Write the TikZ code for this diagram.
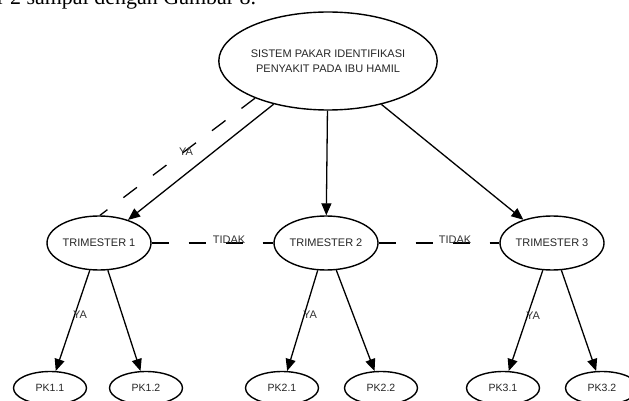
\documentclass[tikz,border=0pt]{standalone}
\usepackage{fontspec}
\setmainfont{Liberation Sans}
\newfontfamily\bodyserif{Liberation Serif}
\usetikzlibrary{shapes.geometric,arrows.meta}
\begin{document}
\begin{tikzpicture}[x=1pt,y=-1pt,
  ell/.style={ellipse, draw, line width=1.4pt, inner sep=0pt, text=black!85,
    font=\fontsize{11}{13}\selectfont, align=center},
  bigell/.style={ell, minimum width=192pt, minimum height=98pt},
  trim/.style={ell, minimum width=104pt, minimum height=54pt},
  pk/.style={ell, minimum width=73pt, minimum height=33pt, font=\fontsize{10.5}{12}\selectfont},
  arr/.style={line width=1.3pt, -{Triangle[length=12pt,width=10pt]}},
  dashline/.style={line width=1.3pt, dash pattern=on 17pt off 20pt},
  lbl/.style={text=black!80, font=\fontsize{11}{13}\selectfont, inner sep=0pt}
]
\clip (0,0) rectangle (629,401);
\fill[white] (0,0) rectangle (629,401);

\node[anchor=base west, inner sep=0pt, font=\bodyserif\fontsize{22}{24}\selectfont] (cap) at (-3,5) {r 2 sampai dengan Gambar 8.};

\node[bigell] (root) at (328,61) {SISTEM PAKAR IDENTIFIKASI\\[2pt]PENYAKIT PADA IBU HAMIL};

\node[trim] (t1) at (99,243) {TRIMESTER 1};
\node[trim] (t2) at (326,243) {TRIMESTER 2};
\node[trim] (t3) at (552,243) {TRIMESTER 3};

\node[pk] (pk11) at (50,388) {PK1.1};
\node[pk] (pk12) at (146,388) {PK1.2};
\node[pk] (pk21) at (282,388) {PK2.1};
\node[pk] (pk22) at (381,388) {PK2.2};
\node[pk] (pk31) at (503,388) {PK3.1};
\node[pk] (pk32) at (602,388) {PK3.2};

\draw[arr] (root) -- (t1);
\draw[arr] (root) -- (t2);
\draw[arr] (root) -- (t3);
\draw[dashline] (root.207) -- (t1.88);

\draw[dashline] (t1) -- (t2);
\draw[dashline] (t2) -- (t3);

\draw[arr] (t1) -- (pk11);
\draw[arr] (t1) -- (pk12);
\draw[arr] (t2) -- (pk21);
\draw[arr] (t2) -- (pk22);
\draw[arr] (t3) -- (pk31);
\draw[arr] (t3) -- (pk32);

\node[lbl] (ya0) at (186,152) {YA};
\node[lbl, anchor=base] (tidak1) at (229,243) {TIDAK};
\node[lbl, anchor=base] (tidak2) at (455,243) {TIDAK};
\node[lbl] (ya1) at (80,315) {YA};
\node[lbl] (ya2) at (310,315) {YA};
\node[lbl] (ya3) at (533,316) {YA};
\end{tikzpicture}
\end{document}
